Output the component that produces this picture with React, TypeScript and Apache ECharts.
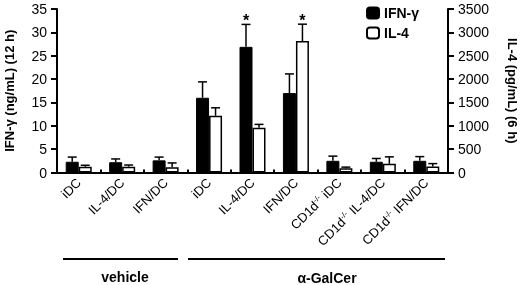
import React, { useEffect, useRef } from 'react';
import * as echarts from 'echarts';

const categories = [
  'iDC', 'IL-4/DC', 'IFN/DC',
  'iDC', 'IL-4/DC', 'IFN/DC',
  'CD1d{sup|-/-} iDC', 'CD1d{sup|-/-} IL-4/DC', 'CD1d{sup|-/-} IFN/DC',
];
const ifnMean = [2.3, 2.2, 2.6, 16.0, 26.9, 17.0, 2.5, 2.3, 2.5];
const ifnSD = [1.0, 0.7, 0.7, 3.4, 4.8, 4.1, 1.0, 0.7, 0.9];
const il4Mean = [125, 125, 115, 1215, 960, 2815, 90, 185, 130];
const il4SD = [30, 35, 90, 170, 70, 360, 25, 150, 60];
const ifnStar = [0, 0, 0, 0, 1, 0, 0, 0, 0];
const il4Star = [0, 0, 0, 0, 0, 1, 0, 0, 0];
const groupNames = ['vehicle', 'α-GalCer'];

const FONT = "'Liberation Sans', Arial, sans-serif";

function makeErr(mean: number[], sd: number[], star: number[], yAxisIndex: number, offset: number) {
  return {
    type: 'custom',
    yAxisIndex,
    silent: true,
    z: 10,
    data: mean.map((m, i) => [i, m, m + sd[i], star[i]]),
    renderItem: (params: any, api: any) => {
      const base = api.coord([api.value(0), api.value(1)]);
      const top = api.coord([api.value(0), api.value(2)]);
      const x = base[0] + offset;
      const children: any[] = [
        { type: 'line', shape: { x1: x, y1: base[1], x2: x, y2: top[1] }, style: { stroke: '#000', lineWidth: 1.5 } },
        { type: 'line', shape: { x1: x - 4.5, y1: top[1], x2: x + 4.5, y2: top[1] }, style: { stroke: '#000', lineWidth: 1.5 } },
      ];
      if (api.value(3)) {
        children.push({
          type: 'text', x, y: top[1] - 12,
          style: { text: '*', align: 'center', verticalAlign: 'top', font: `bold 16px ${FONT}`, fill: '#000' },
        });
      }
      return { type: 'group', children };
    },
  };
}

export default function App() {
  const ref = useRef<HTMLDivElement>(null);
  useEffect(() => {
    const chart = echarts.init(ref.current!, null, { renderer: 'svg' });
    const axisLine = { show: true, lineStyle: { color: '#000', width: 2 } };
    chart.setOption({
      animation: false,
      textStyle: { fontFamily: FONT, color: '#000' },
      grid: { left: 57, right: 72, top: 9, bottom: 112.5, outerBoundsMode: 'none', containLabel: false },
      legend: {
        data: ['IFN-γ', 'IL-4'],
        orient: 'vertical', left: 366, top: 6, padding: 0,
        itemWidth: 12, itemHeight: 11, itemGap: 6,
        textStyle: { fontSize: 14, fontWeight: 'bold', color: '#000', fontFamily: FONT },
      },
      xAxis: {
        type: 'category',
        data: categories,
        axisLine,
        axisTick: { show: true, inside: true, length: 3, lineStyle: { color: '#000', width: 2 } },
        axisLabel: {
          interval: 0, rotate: 45, margin: 8, fontSize: 13, color: '#000', fontFamily: FONT,
          rich: { sup: { fontSize: 8, verticalAlign: 'top', lineHeight: 14, color: '#000', fontFamily: FONT } },
        },
      },
      yAxis: [
        {
          type: 'value', min: 0, max: 35, interval: 5,
          name: 'IFN-γ (ng/mL) (12 h)', nameLocation: 'middle', nameGap: 41, nameRotate: 90,
          nameTextStyle: { fontSize: 13, fontWeight: 'bold', color: '#000', fontFamily: FONT },
          axisLine, splitLine: { show: false },
          axisTick: { show: true, length: 6, lineStyle: { color: '#000', width: 2 } },
          axisLabel: { fontSize: 14, color: '#000', margin: 10, fontFamily: FONT },
        },
        {
          type: 'value', min: 0, max: 3500, interval: 500, position: 'right',
          name: 'IL-4 (pg/mL) (6 h)', nameLocation: 'middle', nameGap: 58, nameRotate: -90,
          nameTextStyle: { fontSize: 13, fontWeight: 'bold', color: '#000', fontFamily: FONT },
          axisLine, splitLine: { show: false },
          axisTick: { show: true, length: 6, lineStyle: { color: '#000', width: 2 } },
          axisLabel: { fontSize: 14, color: '#000', margin: 10, fontFamily: FONT, formatter: (v: number) => String(v) },
        },
      ],
      series: [
        {
          name: 'IFN-γ', type: 'bar', yAxisIndex: 0, data: ifnMean, barWidth: 13, barGap: '0%',
          itemStyle: { color: '#000', borderColor: '#000', borderWidth: 1 },
        },
        {
          name: 'IL-4', type: 'bar', yAxisIndex: 1, data: il4Mean, barWidth: 13, barGap: '0%',
          itemStyle: { color: '#fff', borderColor: '#000', borderWidth: 1.5 },
        },
        makeErr(ifnMean, ifnSD, ifnStar, 0, -6.5),
        makeErr(il4Mean, il4SD, il4Star, 1, 6.5),
      ],
      graphic: [
        { type: 'line', shape: { x1: 63, y1: 259, x2: 178, y2: 259 }, style: { stroke: '#000', lineWidth: 2 } },
        { type: 'line', shape: { x1: 188, y1: 259, x2: 445, y2: 259 }, style: { stroke: '#000', lineWidth: 2 } },
        { type: 'text', x: 125, y: 277, style: { text: groupNames[0], align: 'center', verticalAlign: 'middle', font: `bold 14px ${FONT}`, fill: '#000' } },
        { type: 'text', x: 327, y: 278, style: { text: groupNames[1], align: 'center', verticalAlign: 'middle', font: `bold 14px ${FONT}`, fill: '#000' } },
      ],
    });
    return () => chart.dispose();
  }, []);
  return <div ref={ref} style={{ position: 'fixed', left: 0, top: 0, width: 520, height: 285 }} />;
}
